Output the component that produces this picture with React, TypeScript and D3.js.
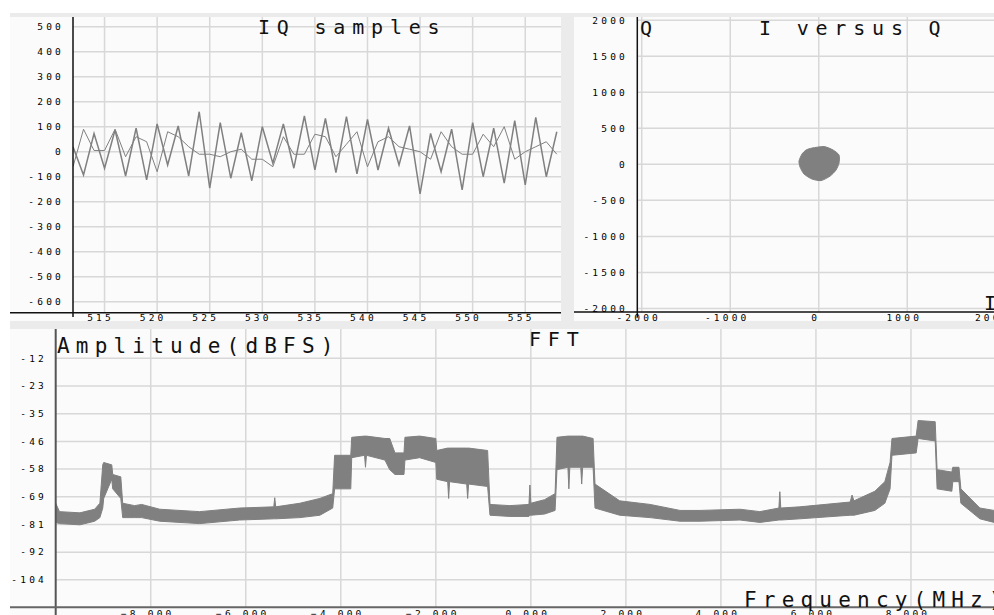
import React from "react";
import * as d3 from "d3";

const W = 994;
const H = 615;
const MONO = "'DejaVu Sans Mono', 'Liberation Mono', monospace";

// IQ samples, index 512..558
const iqStart = 512;
const iSamples = [20, -93, 73, -66, 87, -97, 94, -113, 111, -53, 103, -97, 160, -146, 116, -106, 76, -116, 100, -46, 111, -66, 143, -73, 133, -84, 140, -89, 129, -73, 94, -53, 103, -169, 73, -80, 90, -153, 116, -100, 94, -126, 124, -133, 137, -100, 80];
const qSamples = [-60, 90, 5, 5, 90, -20, 60, 40, -80, 80, 60, 20, -10, -10, -20, 0, 10, -30, -30, -60, 60, -10, -10, 70, 60, -20, 30, 80, -60, 40, 60, 20, 10, 0, -30, 80, 20, -10, -10, 70, 20, 100, -30, 0, 20, 40, -10];
const iqYTicks = [500, 400, 300, 200, 100, 0, -100, -200, -300, -400, -500, -600];
const iqXTicks = [515, 520, 525, 530, 535, 540, 545, 550, 555];

// I versus Q cloud outline
const cloudI = [-76, 60, 162, 229, 229, 195, 128, 26, -76, -166, -211, -223, -189, -143];
const cloudQ = [226, 247, 199, 129, 18, -79, -163, -225, -204, -135, -38, 46, 143, 199];
const scYTicks = [2000, 1500, 1000, 500, 0, -500, -1000, -1500, -2000];
const scXTicks = [-2000, -1000, 0, 1000, 2000];

// FFT envelope (MHz, max dB, min dB)
const fftFreq = [-10, -9.92, -9.49, -9.18, -9.07, -9.01, -8.99, -8.82, -8.8, -8.63, -8.59, -8.34, -8.19, -7.81, -6.97, -6.13, -5.41, -5.39, -5.37, -4.86, -4.44, -4.17, -4.13, -3.79, -3.77, -3.5, -3.48, -3.46, -3.07, -2.97, -2.86, -2.67, -2.65, -2.34, -2.0, -1.98, -1.75, -1.73, -1.71, -1.35, -1.33, -1.31, -0.91, -0.86, -0.44, -0.04, -0.02, 0, 0.29, 0.51, 0.55, 0.78, 0.8, 0.82, 1.05, 1.07, 1.09, 1.31, 1.35, 1.87, 2.51, 3.14, 3.56, 4.4, 4.82, 5.22, 5.24, 5.26, 5.66, 6.72, 6.76, 6.8, 7.24, 7.45, 7.56, 7.6, 8.11, 8.15, 8.51, 8.55, 8.86, 8.88, 9.01, 9.05, 9.45, 9.75, 10];
const fftHigh = [-72, -75.5, -76, -74.5, -72, -56, -55, -56, -60, -61, -72, -73, -72.5, -74.5, -75.5, -74, -73.5, -69.7, -73.5, -72, -70, -68, -52, -52, -44.5, -44, -44, -44, -45, -45, -51, -51, -44.5, -44, -45, -50, -49, -49, -49, -49, -49, -49, -50, -72.5, -73, -72.5, -64.4, -72, -70.5, -68, -44.5, -44, -44, -44, -44, -44, -44, -45, -64, -71, -72.5, -75, -75, -74.5, -75.5, -74, -67.2, -74, -73.5, -71.5, -68.6, -71, -67, -63, -55, -45, -44, -37.5, -38, -58, -59, -57, -57, -66, -74, -75, -75];
const fftLow = [-80, -80.5, -81, -79.5, -78, -74, -70, -62, -66, -70, -78, -78, -78, -79.5, -80.5, -79, -78.5, -78.5, -78.5, -78, -77, -74, -66, -66, -53, -52, -57, -52, -54, -58, -60, -60, -54, -53, -55, -62, -63, -70, -63, -64, -70, -64, -65, -77, -77.5, -77.5, -77, -77, -76.5, -75, -58, -57, -66, -57, -57, -64, -57, -57, -74, -77, -78, -79.5, -79.5, -79, -80, -79, -79, -79, -78.5, -77, -77, -77, -75, -72, -66, -52, -51, -45, -46, -66, -67, -63, -63, -72, -78.5, -80, -80];
const fftYTicks = [-11.55, -23.1, -34.65, -46.2, -57.75, -69.3, -80.85, -92.4, -103.95];
const fftXTicks = [-8, -6, -4, -2, 0, 2, 4, 6, 8];

const GRID = "#d8d8d8";
const DATA = "#808080";

const tickStyle: React.CSSProperties = { fontFamily: MONO, fontSize: 9.5, letterSpacing: 3.2, fill: "#000" };
const titleStyle: React.CSSProperties = { fontFamily: MONO, fontSize: 20, letterSpacing: 6.8, fill: "#111" };

export default function App() {
  // scales
  const iqX = d3.scaleLinear().domain([512, 558.4]).range([73, 561]);
  const iqY = d3.scaleLinear().domain([-644, 543]).range([312.7, 16]);
  const scX = d3.scaleLinear().domain([-2050, 2050]).range([637.3, 1000.2]);
  const scY = d3.scaleLinear().domain([-2050, 2060]).range([312, 16]);
  const fX = d3.scaleLinear().domain([-10, 10]).range([55.7, 1006]);
  const fY = d3.scaleLinear().domain([-115.4, 0]).range([607.3, 330.6]);

  const iqLine = d3
    .line<number>()
    .x((_, i) => iqX(iqStart + i))
    .y(d => iqY(d));

  const cloud = d3
    .line<number>()
    .x(d => scX(d))
    .y((_, i) => scY(cloudQ[i]))
    .curve(d3.curveCardinalClosed.tension(0.3));

  const fftArea = d3
    .area<number>()
    .x(d => fX(d))
    .y0((_, i) => fY(fftLow[i]))
    .y1((_, i) => fY(fftHigh[i]));

  return (
    <svg width={W} height={H} style={{ position: "absolute", left: 0, top: 0, background: "#fff" }}>
      <defs>
        <clipPath id="clipIQ">
          <rect x={73} y={17} width={488} height={296} />
        </clipPath>
        <clipPath id="clipFFT">
          <rect x={56} y={329} width={938} height={278} />
        </clipPath>
      </defs>

      {/* frame + panels */}
      <rect x={10} y={13} width={984} height={602} fill="#ebebeb" />
      <rect x={10} y={17} width={551} height={304} fill="#fbfbfb" />
      <rect x={574} y={17} width={420} height={304} fill="#fbfbfb" />
      <rect x={10} y={329} width={984} height={286} fill="#fbfbfb" />

      {/* IQ samples panel */}
      <g>
        {iqYTicks.map(t => (
          <line key={"gy" + t} x1={73} x2={561} y1={iqY(t)} y2={iqY(t)} stroke={GRID} strokeWidth={1.5} />
        ))}
        {iqXTicks.map(t => (
          <line key={"gx" + t} x1={iqX(t)} x2={iqX(t)} y1={17} y2={312.7} stroke={GRID} strokeWidth={1.5} />
        ))}
        <g clipPath="url(#clipIQ)">
          <path d={iqLine(qSamples) || ""} fill="none" stroke={DATA} strokeWidth={1} />
          <path d={iqLine(iSamples) || ""} fill="none" stroke={DATA} strokeWidth={1.5} />
        </g>
        <line x1={73} x2={73} y1={17} y2={317} stroke="#111" strokeWidth={1.5} />
        <line x1={10} x2={561} y1={312.7} y2={312.7} stroke="#111" strokeWidth={1.5} />
        {iqYTicks.map(t => (
          <text key={"ly" + t} x={64} y={iqY(t)} dy="0.35em" textAnchor="end" style={tickStyle}>
            {t}
          </text>
        ))}
        {iqXTicks.map(t => (
          <text key={"lx" + t} x={iqX(t) - 4} y={320.5} textAnchor="middle" style={tickStyle}>
            {t}
          </text>
        ))}
        <text x={258} y={34} style={titleStyle}>IQ samples</text>
      </g>

      {/* I versus Q panel */}
      <g>
        {scYTicks.map(t => (
          <line key={"sgy" + t} x1={637} x2={994} y1={scY(t)} y2={scY(t)} stroke={GRID} strokeWidth={1.5} />
        ))}
        {scXTicks.map(t => (
          <line key={"sgx" + t} x1={scX(t)} x2={scX(t)} y1={17} y2={312} stroke={GRID} strokeWidth={1.5} />
        ))}
        <path d={cloud(cloudI) || ""} fill={DATA} stroke={DATA} strokeWidth={1} />
        <line x1={637.3} x2={637.3} y1={17} y2={317} stroke="#111" strokeWidth={1.5} />
        <line x1={574} x2={994} y1={312} y2={312} stroke="#111" strokeWidth={1.5} />
        {scYTicks.map(t => (
          <text key={"sly" + t} x={628} y={scY(t)} dy="0.35em" textAnchor="end" style={tickStyle}>
            {t}
          </text>
        ))}
        {scXTicks.map(t => (
          <text key={"slx" + t} x={scX(t) - 3} y={320.5} textAnchor="middle" style={tickStyle}>
            {t}
          </text>
        ))}
        <text x={640} y={35} style={titleStyle}>Q</text>
        <text x={759} y={35} style={titleStyle}>I versus Q</text>
        <text x={984} y={310} style={titleStyle}>I</text>
      </g>

      {/* FFT panel */}
      <g>
        {fftYTicks.map(t => (
          <line key={"fgy" + t} x1={56} x2={994} y1={fY(t)} y2={fY(t)} stroke={GRID} strokeWidth={1.5} />
        ))}
        {fftXTicks.map(t => (
          <line key={"fgx" + t} x1={fX(t)} x2={fX(t)} y1={329} y2={607} stroke={GRID} strokeWidth={1.5} />
        ))}
        <g clipPath="url(#clipFFT)">
          <path d={fftArea(fftFreq) || ""} fill={DATA} stroke={DATA} strokeWidth={1} />
        </g>
        <line x1={55.7} x2={55.7} y1={329} y2={615} stroke="#555" strokeWidth={2} />
        <line x1={10} x2={994} y1={607.3} y2={607.3} stroke="#666" strokeWidth={2} />
        {fftYTicks.map(t => (
          <text key={"fly" + t} x={47} y={fY(t)} dy="0.35em" textAnchor="end" style={tickStyle}>
            {Math.round(t)}
          </text>
        ))}
        {fftXTicks.map(t => (
          <text key={"flx" + t} x={fX(t) - 3} y={617} textAnchor="middle" style={tickStyle}>
            {d3.format(".3f")(t)}
          </text>
        ))}
        <text x={57} y={352.7} style={{ ...titleStyle, fontSize: 21, letterSpacing: 6.2 }}>Amplitude(dBFS)</text>
        <text x={529} y={346} style={titleStyle}>FFT</text>
        <text x={744} y={606.5} style={{ ...titleStyle, fontSize: 21, letterSpacing: 6.2 }}>Frequency(MHz)</text>
      </g>
    </svg>
  );
}
